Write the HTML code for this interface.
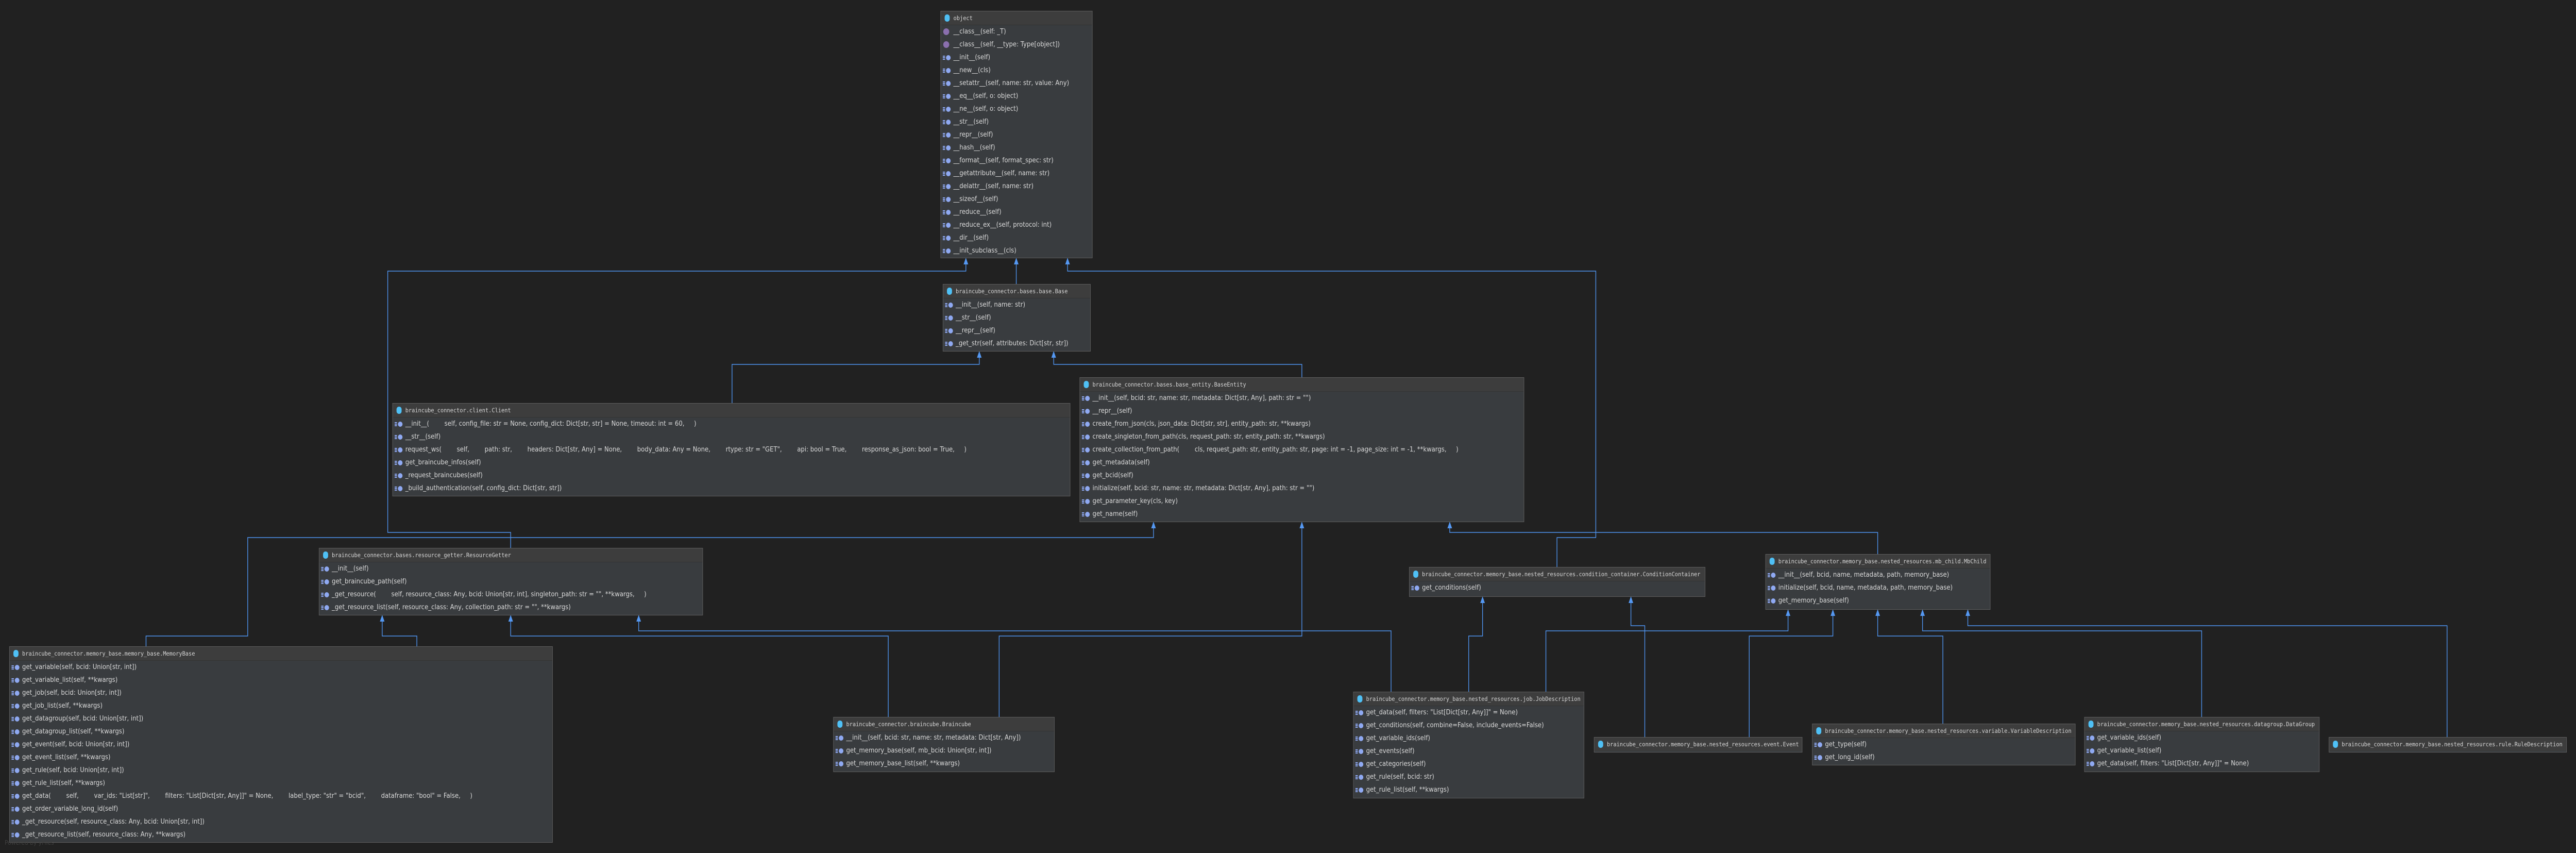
<!DOCTYPE html>
<html><head><meta charset="utf-8">
<style>
html,body{margin:0;padding:0;background:#212121;overflow:hidden;}
body{width:100%;height:100%;font-family:"DejaVu Sans","Liberation Sans",sans-serif;}
#wrap{position:absolute;left:0;top:0;width:5574px;height:1655px;overflow:hidden;transform-origin:0 0;background:#212121;}
.b{position:absolute;box-sizing:border-box;border:1px solid #5e5e5e;background:#393c3f;overflow:hidden;}
.hd{height:26px;line-height:26px;background:#3d3d3d;border-bottom:1px solid #333;font-family:"DejaVu Sans Mono","Liberation Mono",monospace;font-size:11.5px;color:#d6d6d6;padding-left:27px;position:relative;white-space:pre;overflow:hidden;}
.hd::before{content:'';position:absolute;left:8px;top:6px;width:11px;height:14px;border-radius:5px;background:#4fc0f5;}
.m{height:25px;line-height:25px;font-size:13px;color:#dadada;padding-left:27px;position:relative;white-space:pre;overflow:hidden;}
.m::before{content:'';position:absolute;left:11px;top:8px;width:10px;height:10px;border-radius:50%;background:#8fa9f2;}
.m::after{content:'';position:absolute;left:4px;top:9px;width:5px;height:1.5px;background:#8fa9f2;box-shadow:0 3px 0 #8fa9f2,0 6px 0 #8fa9f2;}
.p::before{left:5px;top:6px;width:13px;height:13px;background:#8a6fae;}
.p::after{display:none;}
svg{position:absolute;left:0;top:0;}
.yf{position:absolute;left:10px;top:1628px;font-size:12px;color:#3e3e3e;}
</style></head><body>
<div id="wrap">
<svg width="5574" height="1655" viewBox="0 0 5574 1655">
<g fill="none" stroke="#4f94f0" stroke-width="1.5">
<polyline points="1105,1063 1105,1033 839,1033 839,526 2090,526 2090,512"/>
<polyline points="2199,551 2199,512"/>
<polyline points="3369,1100 3369,1043 3453,1043 3453,526 2310,526 2310,512"/>
<polyline points="1584,782 1584,707 2119,707 2119,693"/>
<polyline points="2817,732 2817,707 2280,707 2280,693"/>
<polyline points="316,1254 316,1234 536,1234 536,1043 2496,1043 2496,1024"/>
<polyline points="2162,1391 2162,1234 2817,1234 2817,1024"/>
<polyline points="4063,1075 4063,1033 3137,1033 3137,1024"/>
<polyline points="902,1254 902,1234 827,1234 827,1205"/>
<polyline points="1922,1391 1922,1234 1105,1234 1105,1205"/>
<polyline points="3010,1342 3010,1224 1382,1224 1382,1205"/>
<polyline points="3178,1342 3178,1234 3208,1234 3208,1169"/>
<polyline points="3559,1430 3559,1214 3529,1214 3529,1169"/>
<polyline points="3345,1342 3345,1224 3869,1224 3869,1194"/>
<polyline points="3785,1430 3785,1234 3966,1234 3966,1194"/>
<polyline points="4204,1404 4204,1234 4063,1234 4063,1194"/>
<polyline points="4764,1391 4764,1224 4160,1224 4160,1194"/>
<polyline points="5295,1430 5295,1214 4258,1214 4258,1194"/>
</g>
<g fill="#5598f2">
<polygon points="2090,500 2085,513 2095,513"/>
<polygon points="2199,500 2194,513 2204,513"/>
<polygon points="2310,500 2305,513 2315,513"/>
<polygon points="2119,681 2114,694 2124,694"/>
<polygon points="2280,681 2275,694 2285,694"/>
<polygon points="2496,1012 2491,1025 2501,1025"/>
<polygon points="2817,1012 2812,1025 2822,1025"/>
<polygon points="3137,1012 3132,1025 3142,1025"/>
<polygon points="827,1193 822,1206 832,1206"/>
<polygon points="1105,1193 1100,1206 1110,1206"/>
<polygon points="1382,1193 1377,1206 1387,1206"/>
<polygon points="3208,1157 3203,1170 3213,1170"/>
<polygon points="3529,1157 3524,1170 3534,1170"/>
<polygon points="3869,1182 3864,1195 3874,1195"/>
<polygon points="3966,1182 3961,1195 3971,1195"/>
<polygon points="4063,1182 4058,1195 4068,1195"/>
<polygon points="4160,1182 4155,1195 4165,1195"/>
<polygon points="4258,1182 4253,1195 4263,1195"/>
</g>
</svg>

<div class="b" style="left:2035px;top:21px;width:329px;height:480px;">
<div class="hd">object</div>
<div class="m p">__class__(self: _T)</div>
<div class="m p">__class__(self, __type: Type[object])</div>
<div class="m">__init__(self)</div>
<div class="m">__new__(cls)</div>
<div class="m">__setattr__(self, name: str, value: Any)</div>
<div class="m">__eq__(self, o: object)</div>
<div class="m">__ne__(self, o: object)</div>
<div class="m">__str__(self)</div>
<div class="m">__repr__(self)</div>
<div class="m">__hash__(self)</div>
<div class="m">__format__(self, format_spec: str)</div>
<div class="m">__getattribute__(self, name: str)</div>
<div class="m">__delattr__(self, name: str)</div>
<div class="m">__sizeof__(self)</div>
<div class="m">__reduce__(self)</div>
<div class="m">__reduce_ex__(self, protocol: int)</div>
<div class="m">__dir__(self)</div>
<div class="m">__init_subclass__(cls)</div>
</div>

<div class="b" style="left:2040px;top:551px;width:320px;height:131px;">
<div class="hd">braincube_connector.bases.base.Base</div>
<div class="m">__init__(self, name: str)</div>
<div class="m">__str__(self)</div>
<div class="m">__repr__(self)</div>
<div class="m">_get_str(self, attributes: Dict[str, str])</div>
</div>

<div class="b" style="left:849px;top:782px;width:1467px;height:181px;">
<div class="hd">braincube_connector.client.Client</div>
<div class="m">__init__(        self, config_file: str = None, config_dict: Dict[str, str] = None, timeout: int = 60,     )</div>
<div class="m">__str__(self)</div>
<div class="m">request_ws(        self,        path: str,        headers: Dict[str, Any] = None,        body_data: Any = None,        rtype: str = "GET",        api: bool = True,        response_as_json: bool = True,     )</div>
<div class="m">get_braincube_infos(self)</div>
<div class="m">_request_braincubes(self)</div>
<div class="m">_build_authentication(self, config_dict: Dict[str, str])</div>
</div>

<div class="b" style="left:2336px;top:732px;width:962px;height:281px;">
<div class="hd">braincube_connector.bases.base_entity.BaseEntity</div>
<div class="m">__init__(self, bcid: str, name: str, metadata: Dict[str, Any], path: str = "")</div>
<div class="m">__repr__(self)</div>
<div class="m">create_from_json(cls, json_data: Dict[str, str], entity_path: str, **kwargs)</div>
<div class="m">create_singleton_from_path(cls, request_path: str, entity_path: str, **kwargs)</div>
<div class="m">create_collection_from_path(        cls, request_path: str, entity_path: str, page: int = -1, page_size: int = -1, **kwargs,     )</div>
<div class="m">get_metadata(self)</div>
<div class="m">get_bcid(self)</div>
<div class="m">initialize(self, bcid: str, name: str, metadata: Dict[str, Any], path: str = "")</div>
<div class="m">get_parameter_key(cls, key)</div>
<div class="m">get_name(self)</div>
</div>

<div class="b" style="left:690px;top:1063px;width:831px;height:131px;">
<div class="hd">braincube_connector.bases.resource_getter.ResourceGetter</div>
<div class="m">__init__(self)</div>
<div class="m">get_braincube_path(self)</div>
<div class="m">_get_resource(        self, resource_class: Any, bcid: Union[str, int], singleton_path: str = "", **kwargs,     )</div>
<div class="m">_get_resource_list(self, resource_class: Any, collection_path: str = "", **kwargs)</div>
</div>

<div class="b" style="left:20px;top:1254px;width:1176px;height:381px;">
<div class="hd">braincube_connector.memory_base.memory_base.MemoryBase</div>
<div class="m">get_variable(self, bcid: Union[str, int])</div>
<div class="m">get_variable_list(self, **kwargs)</div>
<div class="m">get_job(self, bcid: Union[str, int])</div>
<div class="m">get_job_list(self, **kwargs)</div>
<div class="m">get_datagroup(self, bcid: Union[str, int])</div>
<div class="m">get_datagroup_list(self, **kwargs)</div>
<div class="m">get_event(self, bcid: Union[str, int])</div>
<div class="m">get_event_list(self, **kwargs)</div>
<div class="m">get_rule(self, bcid: Union[str, int])</div>
<div class="m">get_rule_list(self, **kwargs)</div>
<div class="m">get_data(        self,        var_ids: "List[str]",        filters: "List[Dict[str, Any]]" = None,        label_type: "str" = "bcid",        dataframe: "bool" = False,     )</div>
<div class="m">get_order_variable_long_id(self)</div>
<div class="m">_get_resource(self, resource_class: Any, bcid: Union[str, int])</div>
<div class="m">_get_resource_list(self, resource_class: Any, **kwargs)</div>
</div>

<div class="b" style="left:1803px;top:1391px;width:479px;height:107px;">
<div class="hd">braincube_connector.braincube.Braincube</div>
<div class="m">__init__(self, bcid: str, name: str, metadata: Dict[str, Any])</div>
<div class="m">get_memory_base(self, mb_bcid: Union[str, int])</div>
<div class="m">get_memory_base_list(self, **kwargs)</div>
</div>

<div class="b" style="left:3049px;top:1100px;width:641px;height:58px;">
<div class="hd">braincube_connector.memory_base.nested_resources.condition_container.ConditionContainer</div>
<div class="m">get_conditions(self)</div>
</div>

<div class="b" style="left:3820px;top:1075px;width:487px;height:108px;">
<div class="hd">braincube_connector.memory_base.nested_resources.mb_child.MbChild</div>
<div class="m">__init__(self, bcid, name, metadata, path, memory_base)</div>
<div class="m">initialize(self, bcid, name, metadata, path, memory_base)</div>
<div class="m">get_memory_base(self)</div>
</div>

<div class="b" style="left:2928px;top:1342px;width:500px;height:207px;">
<div class="hd">braincube_connector.memory_base.nested_resources.job.JobDescription</div>
<div class="m">get_data(self, filters: "List[Dict[str, Any]]" = None)</div>
<div class="m">get_conditions(self, combine=False, include_events=False)</div>
<div class="m">get_variable_ids(self)</div>
<div class="m">get_events(self)</div>
<div class="m">get_categories(self)</div>
<div class="m">get_rule(self, bcid: str)</div>
<div class="m">get_rule_list(self, **kwargs)</div>
</div>

<div class="b" style="left:3449px;top:1430px;width:451px;height:30px;">
<div class="hd" style="border-bottom:none;">braincube_connector.memory_base.nested_resources.event.Event</div>
</div>

<div class="b" style="left:3921px;top:1404px;width:570px;height:81px;">
<div class="hd">braincube_connector.memory_base.nested_resources.variable.VariableDescription</div>
<div class="m">get_type(self)</div>
<div class="m">get_long_id(self)</div>
</div>

<div class="b" style="left:4510px;top:1391px;width:509px;height:107px;">
<div class="hd">braincube_connector.memory_base.nested_resources.datagroup.DataGroup</div>
<div class="m">get_variable_ids(self)</div>
<div class="m">get_variable_list(self)</div>
<div class="m">get_data(self, filters: "List[Dict[str, Any]]" = None)</div>
</div>

<div class="b" style="left:5039px;top:1430px;width:515px;height:30px;">
<div class="hd" style="border-bottom:none;">braincube_connector.memory_base.nested_resources.rule.RuleDescription</div>
</div>

<div class="yf">Powered by yFiles</div>
</div>
<script>
(function(){
  var w=document.getElementById('wrap');
  function f(){
    var sx=window.innerWidth/5574, sy=window.innerHeight/1655;
    if(!sx||!sy){return;}
    w.style.transform='scale('+sx+','+sy+')';
  }
  f();
  window.addEventListener('resize',f);
})();
</script>
</body></html>
